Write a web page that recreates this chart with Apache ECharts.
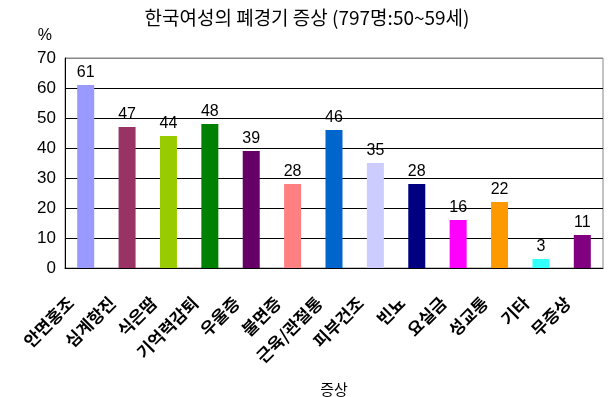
<!DOCTYPE html>
<html>
<head>
<meta charset="utf-8">
<script src="https://cdn.jsdelivr.net/npm/echarts@6/dist/echarts.min.js"></script>
<style>
  html, body { margin: 0; padding: 0; background: #fff; }
  #chart { width: 614px; height: 397px; }
</style>
</head>
<body>
<div id="chart"></div>
<script>
// 증상 항목
const categories = ['안면홍조', '심계항진', '식은땀', '기억력감퇴', '우울증', '불면증', '근육/관절통', '피부건조', '빈뇨', '요실금', '성교통', '기타', '무증상']
// 응답 비율 (%)
const values = [61, 47, 44, 48, 39, 28, 46, 35, 28, 16, 22, 3, 11]
const barColors = ['#9999ff', '#993366', '#99cc00', '#008000', '#660066', '#ff8080', '#0066cc', '#ccccff', '#000080', '#ff00ff', '#ff9900', '#33ffff', '#800080']
const yTicks = [0, 10, 20, 30, 40, 50, 60, 70]

const chart = echarts.init(document.getElementById('chart'), null, { renderer: 'canvas' })

const font = '"Liberation Sans", "Noto Sans CJK KR", sans-serif'
const krFont = '"Noto Sans CJK KR", sans-serif'

chart.setOption({
  animation: false,
  title: {
    text: '한국여성의 폐경기 증상 (797명:50~59세)',
    left: 'center',
    top: 3,
    textStyle: { color: '#000', fontSize: 19, fontWeight: 'normal', fontFamily: krFont }
  },
  grid: {
    left: 65,
    right: 11,
    top: 58,
    bottom: 129,
    outerBoundsMode: 'none',
    containLabel: false,
    show: true,
    borderColor: '#888',
    borderWidth: 1
  },
  xAxis: {
    type: 'category',
    data: categories,
    name: '증상',
    nameLocation: 'middle',
    nameGap: 114,
    nameTextStyle: { color: '#000', fontSize: 15, fontFamily: krFont },
    axisLine: { lineStyle: { color: '#000', width: 1 } },
    axisTick: { inside: true, length: 5, lineStyle: { color: '#000' } },
    axisLabel: {
      rotate: 45,
      interval: 0,
      margin: 17,
      padding: [0, 21, 0, 0],
      color: '#000',
      fontSize: 17,
      fontWeight: 'bold',
      fontFamily: krFont
    }
  },
  yAxis: {
    type: 'value',
    min: yTicks[0],
    max: yTicks[yTicks.length - 1],
    interval: 10,
    name: '%',
    nameLocation: 'end',
    nameGap: 14,
    nameTextStyle: { color: '#000', fontSize: 16, fontFamily: font, align: 'right', padding: [0, 13, 0, 0] },
    axisLine: { show: true, lineStyle: { color: '#000', width: 1 } },
    axisTick: { show: false },
    axisLabel: { color: '#000', fontSize: 17, fontFamily: font, margin: 9 },
    splitLine: {
      lineStyle: {
        color: yTicks.map((t, i) => (i === yTicks.length - 1 ? '#888' : '#000')),
        width: 1
      }
    }
  },
  series: [
    {
      type: 'bar',
      barWidth: 17,
      data: values.map((v, i) => ({ value: v, itemStyle: { color: barColors[i] } })),
      label: {
        show: true,
        position: 'top',
        distance: 4,
        color: '#000',
        fontSize: 16,
        fontFamily: font
      }
    }
  ]
})
</script>
</body>
</html>
